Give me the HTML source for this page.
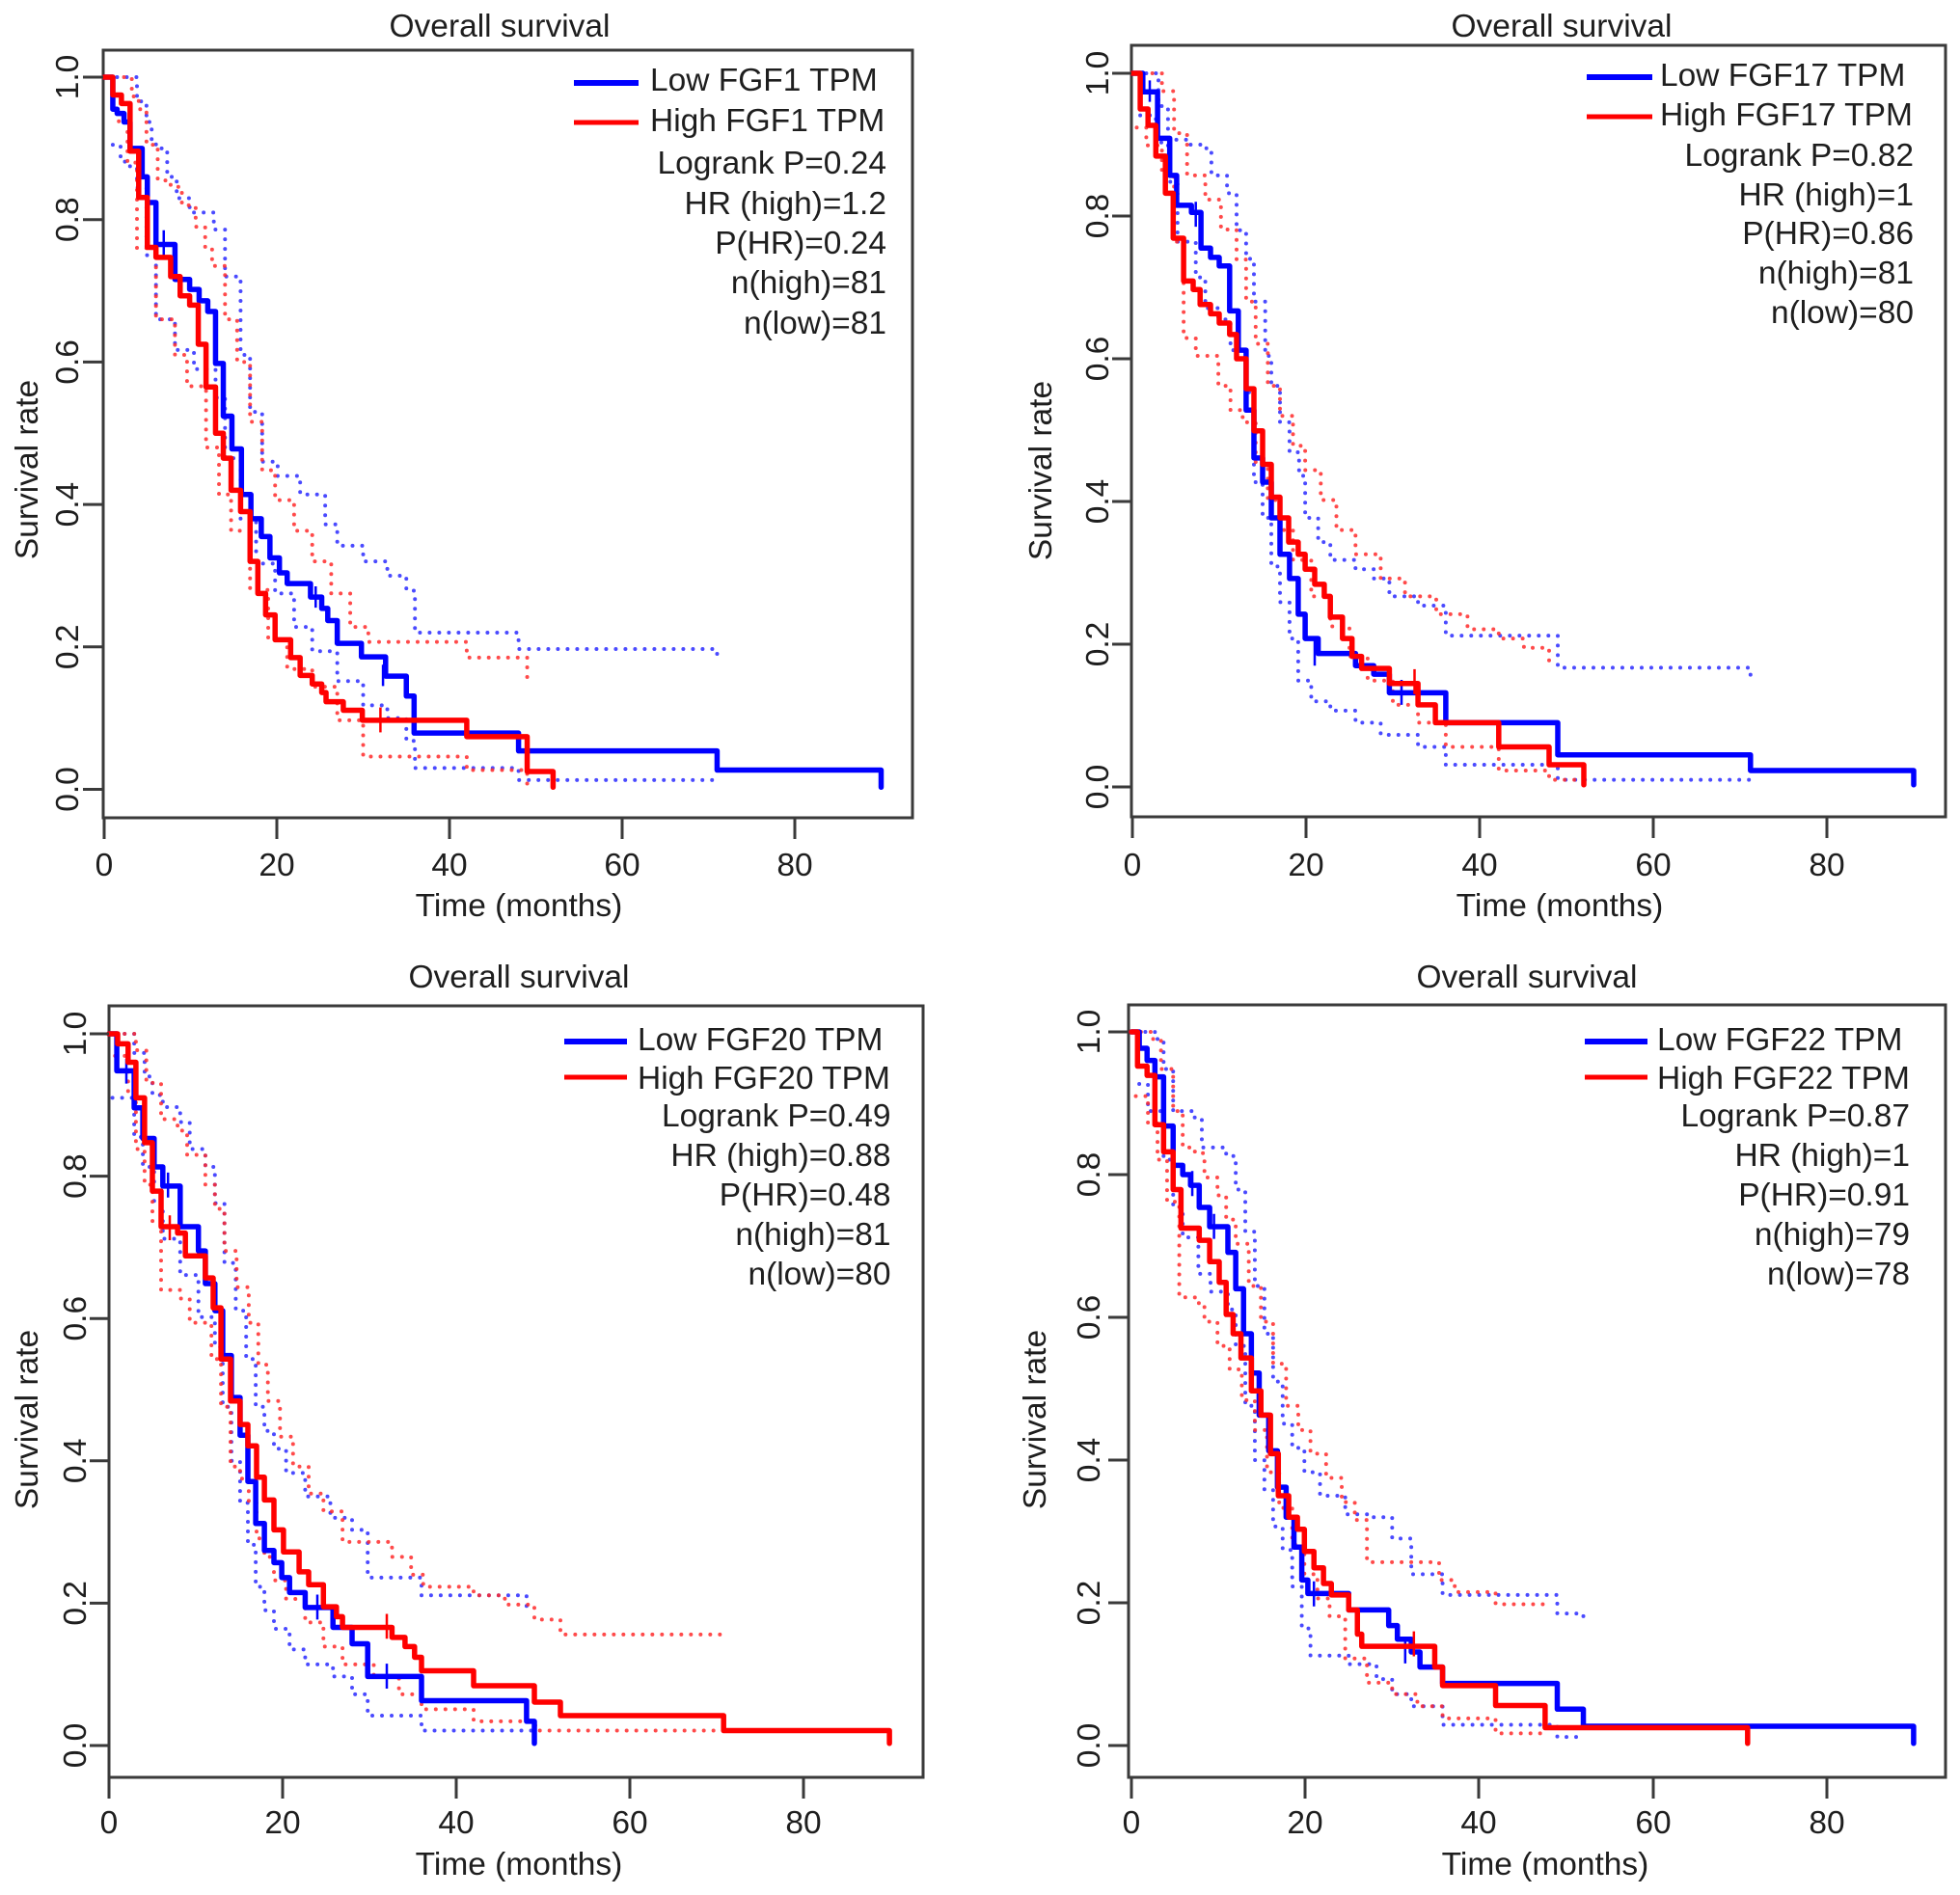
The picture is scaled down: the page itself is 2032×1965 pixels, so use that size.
<!DOCTYPE html>
<html><head><meta charset="utf-8"><style>
html,body{margin:0;padding:0;background:#fff}
svg{display:block}
text{font-family:"Liberation Sans",Arial,sans-serif;font-size:33.5px;fill:#1e1e1e}
.box{fill:none;stroke:#3a3a3a;stroke-width:3}
.tk{stroke:#3a3a3a;stroke-width:3}
.b{fill:none;stroke:#0000ff;stroke-width:5.5;stroke-linejoin:round;stroke-linecap:round;vector-effect:non-scaling-stroke}
.r{fill:none;stroke:#ff0000;stroke-width:5.5;stroke-linejoin:round;stroke-linecap:round;vector-effect:non-scaling-stroke}
.bd{fill:none;stroke:#2b2bff;stroke-width:4;stroke-dasharray:0 10;stroke-linecap:round;vector-effect:non-scaling-stroke;opacity:.85}
.rd{fill:none;stroke:#ff2b2b;stroke-width:4;stroke-dasharray:0 10;stroke-linecap:round;vector-effect:non-scaling-stroke;opacity:.85}
.cb{fill:none;stroke:#0000ff;stroke-width:2.5;vector-effect:non-scaling-stroke}
.cr{fill:none;stroke:#ff0000;stroke-width:2.5;vector-effect:non-scaling-stroke}
.e{text-anchor:end}.m{text-anchor:middle}
</style></head><body>
<svg width="2032" height="1965" viewBox="0 0 2032 1965" xmlns="http://www.w3.org/2000/svg">
<rect width="2032" height="1965" fill="#fff"/>

<!-- ================= PANEL 1 ================= -->
<rect class="box" x="107" y="52" width="839" height="796"/>
<g transform="matrix(8.95 0 0 -738.5 108 818.5)">
<path class="bd" d="M1.5 1H3.8V0.966H4.9V0.937H5.5V0.91H6V0.9H7.3V0.86H8.4V0.83H9.9V0.81H12.7V0.786H14V0.72H15.8V0.61H16.9V0.53H18.3V0.46H20.1V0.44H22.7V0.414H25.6V0.372H27V0.342H30V0.32H32.8V0.3H35V0.279H36V0.22H48V0.197H71V0.185"/>
<path class="bd" d="M1 0.905H1.9V0.887H2.4V0.875H3.8V0.845H4.9V0.75H6V0.716V0.66H8.2V0.617H10.4V0.59H12.9V0.55H14V0.465H15.8V0.38H17.6V0.317H19.8V0.275H22V0.228H24.1V0.194H27V0.152H30V0.118H32.8V0.1H35V0.068H36V0.03H48V0.013H71"/>
<path class="rd" d="M2.3 1H3.2V0.973H4V0.955H4.9V0.905H6.2V0.855H7.7V0.846H9V0.82H10.6V0.79H11.7V0.76H12.5V0.735H14V0.66H15.4V0.6H16.9V0.516H18.3V0.448H19.8V0.406H22V0.363H24.1V0.32H26.3V0.275H28.5V0.228H30.6V0.207H42V0.185H49V0.15"/>
<path class="rd" d="M1.7 0.938H2.7V0.88H3.8V0.76H6V0.66H8.2V0.61H9.6V0.566H11.8V0.48H13.3V0.414H14.7V0.363H16.9V0.28H19V0.21H21.2V0.169H24.1V0.144H27V0.097H30V0.046H42V0.027H49V0.008"/>
<path class="b" d="M0 1H1V0.955H1.5V0.949H2.3V0.937H3V0.9H4.4V0.86H5V0.824H6V0.765H8.2V0.752V0.716H9.9V0.702H11V0.686H12V0.671H12.9V0.598H13.8V0.524H14.8V0.478H15.9V0.414H17V0.38H18.2V0.355H19.2V0.325H20.3V0.304H21.2V0.289H23.9V0.27H25.2V0.254H25.9V0.237H27V0.205H29.8V0.186H32.6V0.159H35V0.131H35.9V0.079H48V0.054H71V0.027H90V0.003"/>
<path class="cb" d="M6.9 0.745V0.785M24.5 0.255V0.285M32.3 0.145V0.175"/>
<path class="r" d="M0 1H1V0.975H2V0.963H3V0.896H4V0.831H5V0.761H6V0.747H7.7V0.72H8.8V0.693H9.9V0.68H10.9V0.625H11.8V0.565H12.9V0.5H13.8V0.465H14.7V0.42H15.8V0.39H16.9V0.32H17.8V0.275H18.7V0.245H19.8V0.21H21.6V0.185H22.7V0.16H24.1V0.148H25.2V0.136H25.7V0.123H27.7V0.111H29.9V0.097H42V0.074H49V0.025H52V0.003"/>
<path class="cr" d="M32 0.08V0.115"/>
</g>
<g class="tk">
<line x1="86" y1="818.5" x2="107" y2="818.5"/><line x1="86" y1="670.8" x2="107" y2="670.8"/><line x1="86" y1="523.1" x2="107" y2="523.1"/><line x1="86" y1="375.4" x2="107" y2="375.4"/><line x1="86" y1="227.7" x2="107" y2="227.7"/><line x1="86" y1="80" x2="107" y2="80"/>
<line x1="108" y1="848" x2="108" y2="870"/><line x1="287" y1="848" x2="287" y2="870"/><line x1="466" y1="848" x2="466" y2="870"/><line x1="645" y1="848" x2="645" y2="870"/><line x1="824" y1="848" x2="824" y2="870"/>
</g>
<text class="m" transform="translate(81,818.5) rotate(-90)">0.0</text>
<text class="m" transform="translate(81,670.8) rotate(-90)">0.2</text>
<text class="m" transform="translate(81,523.1) rotate(-90)">0.4</text>
<text class="m" transform="translate(81,375.4) rotate(-90)">0.6</text>
<text class="m" transform="translate(81,227.7) rotate(-90)">0.8</text>
<text class="m" transform="translate(81,80) rotate(-90)">1.0</text>
<text class="m" x="108" y="908">0</text><text class="m" x="287" y="908">20</text><text class="m" x="466" y="908">40</text><text class="m" x="645" y="908">60</text><text class="m" x="824" y="908">80</text>
<text class="m" x="518" y="38">Overall survival</text>
<text class="m" x="538" y="950">Time (months)</text>
<text class="m" transform="translate(39,487) rotate(-90)">Survival rate</text>
<line x1="595" y1="86" x2="662" y2="86" stroke="#0000ff" stroke-width="6"/>
<line x1="595" y1="127" x2="662" y2="127" stroke="#ff0000" stroke-width="5"/>
<text x="674" y="94">Low FGF1 TPM</text>
<text x="674" y="136">High FGF1 TPM</text>
<text class="e" x="919" y="180">Logrank P=0.24</text>
<text class="e" x="919" y="222">HR (high)=1.2</text>
<text class="e" x="919" y="263">P(HR)=0.24</text>
<text class="e" x="919" y="304">n(high)=81</text>
<text class="e" x="919" y="346">n(low)=81</text>

<!-- ================= PANEL 2 ================= -->
<rect class="box" x="1173" y="47" width="844" height="800"/>
<g transform="matrix(9.0 0 0 -740 1174 816)">
<path class="bd" d="M1.6 1H3V0.954H4.1V0.907H6.3V0.9H8V0.895H9.1V0.857H10.9V0.832H12V0.78H13.1V0.74H14V0.68H15.3V0.604H16V0.562H17V0.511H18.1V0.469H19.2V0.436H19.9V0.377H21.4V0.343H22.8V0.318H25.7V0.305H27.8V0.292H29.6V0.267H32.9V0.254H36.1V0.212H49V0.167H71.2V0.15"/>
<path class="bd" d="M0.9 0.941H2.7V0.903H4.1V0.848H5.2V0.764H7.3V0.714H8.4V0.671H9.9V0.655H11.3V0.612H13.1V0.553H14V0.427H15V0.377H16V0.309H17V0.259H18.1V0.208H19.1V0.149H20.6V0.12H22.8V0.107H25.7V0.09H28.6V0.073H32.9V0.056H36.1V0.031H49V0.01H71.2"/>
<path class="rd" d="M2.3 1H3.4V0.975H4.8V0.916H6.3V0.857H8.4V0.823H10.2V0.781H12V0.739H13.1V0.68H14.2V0.621H15.6V0.562H17V0.52H18.5V0.478H19.9V0.444H21.7V0.402H23.5V0.36H25.7V0.326H28.6V0.292H31.4V0.267H35V0.242H38.6V0.221H42.2V0.208H45.1V0.195H48V0.183V0.165"/>
<path class="rd" d="M0.5 0.924H1.6V0.899H3.4V0.857H4.8V0.764H5.9V0.629H7.3V0.604H9.9V0.562H11.3V0.528H12.7V0.511H14.2V0.452H15.6V0.402H17V0.36H18.5V0.318H20.6V0.267H22.8V0.225H25V0.183H27.1V0.149H30V0.115H32.9V0.09H36.1V0.056H42.2V0.023H48V0.01H52"/>
<path class="b" d="M0 1H1.2V0.974H2.9V0.909H4.3V0.857H5.1V0.815H6.8V0.805H7.9V0.755H9V0.742H10V0.73H11.2V0.667H12.2V0.612H13.1V0.528H14V0.461H15V0.427H16V0.377H17V0.326H18.1V0.292H19.1V0.242H19.9V0.208H21.4V0.187H25.7V0.17H27.8V0.158H29.6V0.132H36.1V0.09H49V0.045H71.2V0.023H90V0.003"/>
<path class="cb" d="M2 0.96V0.99M7.3 0.785V0.82M21 0.17V0.205M31 0.115V0.15"/>
<path class="r" d="M0 1H0.9V0.95H1.8V0.927H2.7V0.884H3.8V0.832H4.7V0.769H5.9V0.709H7V0.697H7.8V0.676H9V0.663H10V0.65H11.2V0.634H12V0.6H13.1V0.558H14V0.499H15V0.452H16V0.406H17V0.377H18V0.343H19.1V0.326H19.9V0.305H21V0.284H22.1V0.267H22.8V0.238H24.2V0.208H25.3V0.183H26.4V0.166H29.6V0.145H32.9V0.115H34.9V0.09H42.2V0.056H48V0.031H52V0.003"/>
<path class="cr" d="M32.5 0.13V0.165"/>
</g>
<g class="tk">
<line x1="1153" y1="816" x2="1173" y2="816"/><line x1="1153" y1="668" x2="1173" y2="668"/><line x1="1153" y1="520" x2="1173" y2="520"/><line x1="1153" y1="372" x2="1173" y2="372"/><line x1="1153" y1="224" x2="1173" y2="224"/><line x1="1153" y1="76" x2="1173" y2="76"/>
<line x1="1174" y1="847" x2="1174" y2="869"/><line x1="1354" y1="847" x2="1354" y2="869"/><line x1="1534" y1="847" x2="1534" y2="869"/><line x1="1714" y1="847" x2="1714" y2="869"/><line x1="1894" y1="847" x2="1894" y2="869"/>
</g>
<text class="m" transform="translate(1149,816) rotate(-90)">0.0</text>
<text class="m" transform="translate(1149,668) rotate(-90)">0.2</text>
<text class="m" transform="translate(1149,520) rotate(-90)">0.4</text>
<text class="m" transform="translate(1149,372) rotate(-90)">0.6</text>
<text class="m" transform="translate(1149,224) rotate(-90)">0.8</text>
<text class="m" transform="translate(1149,76) rotate(-90)">1.0</text>
<text class="m" x="1174" y="908">0</text><text class="m" x="1354" y="908">20</text><text class="m" x="1534" y="908">40</text><text class="m" x="1714" y="908">60</text><text class="m" x="1894" y="908">80</text>
<text class="m" x="1619" y="38">Overall survival</text>
<text class="m" x="1617" y="950">Time (months)</text>
<text class="m" transform="translate(1090,488) rotate(-90)">Survival rate</text>
<line x1="1645" y1="80" x2="1713" y2="80" stroke="#0000ff" stroke-width="6"/>
<line x1="1645" y1="121" x2="1713" y2="121" stroke="#ff0000" stroke-width="5"/>
<text x="1721" y="89">Low FGF17 TPM</text>
<text x="1721" y="130">High FGF17 TPM</text>
<text class="e" x="1984" y="172">Logrank P=0.82</text>
<text class="e" x="1984" y="213">HR (high)=1</text>
<text class="e" x="1984" y="253">P(HR)=0.86</text>
<text class="e" x="1984" y="294">n(high)=81</text>
<text class="e" x="1984" y="335">n(low)=80</text>

<!-- ================= PANEL 3 ================= -->
<rect class="box" x="113" y="1043" width="844" height="800"/>
<g transform="matrix(9.0 0 0 -738 113 1810)">
<path class="bd" d="M1.8 1H2.9V0.973H4.1V0.94H5V0.914H6.2V0.897H8.2V0.876H9.3V0.838H11.1V0.813H12.2V0.762H13.3V0.678H14.6V0.611H15.8V0.543H16.9V0.476H17.9V0.442H19V0.417H20.4V0.383H22.6V0.35H25.5V0.32H28V0.303H29.8V0.236H36V0.211H48.1V0.19"/>
<path class="bd" d="M0.4 0.91H2.9V0.855H3.9V0.813H5.2V0.762H6.2V0.712H8.2V0.661H10.3V0.602H12.2V0.56H13.1V0.476H14.1V0.4H15.1V0.341H16V0.282H16.9V0.223H17.9V0.19H19V0.164H20.8V0.135H22.6V0.114H25.8V0.097H28V0.072H29.8V0.042H36V0.021H49"/>
<path class="rd" d="M1.8 1H3.1V0.977H4.3V0.931H6V0.88H7.9V0.864H9V0.83H11.1V0.788H12.2V0.754H13.3V0.695H14.7V0.644H16.1V0.594H17.2V0.535H18.3V0.484H19.7V0.434H21.2V0.392H23V0.354H24.7V0.329H26.9V0.286H32.6V0.265H34.8V0.24H36.2V0.223H42V0.211H45.6V0.198H49V0.177H52V0.156H70.8"/>
<path class="rd" d="M0.7 0.969H2.2V0.914H3.1V0.838H4.1V0.788H5V0.737H6V0.64H8.2V0.628H9.3V0.594H11.8V0.543H12.9V0.476H14V0.392H15.1V0.375H16.1V0.341H17V0.291H17.9V0.265H19V0.232H20.4V0.206H22.6V0.173H24.7V0.139H26.9V0.114H30.5V0.097H33.4V0.072H36V0.051H42V0.034H49.1V0.021H70.8"/>
<path class="b" d="M0 1H0.9V0.948H2.9V0.896H3.9V0.853H5.2V0.813H6.2V0.786H8.2V0.729H10.3V0.695H11.1V0.649H12.2V0.611H13.1V0.548H14.1V0.489H15.1V0.436H16V0.371H16.9V0.312H17.9V0.274H19V0.257H19.9V0.236H20.8V0.215H22.6V0.194H25.8V0.166H28V0.143H29.8V0.097H36V0.063H48.1V0.034H49V0.003"/>
<path class="cb" d="M2 0.93V0.965M6.8 0.77V0.805M24 0.177V0.212M32 0.08V0.115"/>
<path class="r" d="M0 1H1V0.986H2.2V0.96H3.1V0.91H4.1V0.847H5V0.779H6V0.729H7.9V0.72H8.8V0.688H11.1V0.657H12V0.615H12.9V0.543H14V0.484H15.1V0.451H16V0.421H17V0.377H17.9V0.345H19V0.303H20.1V0.272H21.9V0.244H23V0.226H24.7V0.195H26.2V0.181H26.9V0.166H32.6V0.152H34.1V0.139H35.2V0.124H36V0.105H42V0.084H49V0.061H52V0.042H70.8V0.021H89.9V0.003"/>
<path class="cr" d="M7 0.71V0.745M32 0.15V0.185"/>
</g>
<g class="tk">
<line x1="93" y1="1810" x2="113" y2="1810"/><line x1="93" y1="1662.4" x2="113" y2="1662.4"/><line x1="93" y1="1514.8" x2="113" y2="1514.8"/><line x1="93" y1="1367.2" x2="113" y2="1367.2"/><line x1="93" y1="1219.6" x2="113" y2="1219.6"/><line x1="93" y1="1072" x2="113" y2="1072"/>
<line x1="113" y1="1843" x2="113" y2="1865"/><line x1="293" y1="1843" x2="293" y2="1865"/><line x1="473" y1="1843" x2="473" y2="1865"/><line x1="653" y1="1843" x2="653" y2="1865"/><line x1="833" y1="1843" x2="833" y2="1865"/>
</g>
<text class="m" transform="translate(89,1810) rotate(-90)">0.0</text>
<text class="m" transform="translate(89,1662.4) rotate(-90)">0.2</text>
<text class="m" transform="translate(89,1514.8) rotate(-90)">0.4</text>
<text class="m" transform="translate(89,1367.2) rotate(-90)">0.6</text>
<text class="m" transform="translate(89,1219.6) rotate(-90)">0.8</text>
<text class="m" transform="translate(89,1072) rotate(-90)">1.0</text>
<text class="m" x="113" y="1901">0</text><text class="m" x="293" y="1901">20</text><text class="m" x="473" y="1901">40</text><text class="m" x="653" y="1901">60</text><text class="m" x="833" y="1901">80</text>
<text class="m" x="538" y="1024">Overall survival</text>
<text class="m" x="538" y="1944">Time (months)</text>
<text class="m" transform="translate(39,1472) rotate(-90)">Survival rate</text>
<line x1="585" y1="1080" x2="650" y2="1080" stroke="#0000ff" stroke-width="6"/>
<line x1="585" y1="1117" x2="650" y2="1117" stroke="#ff0000" stroke-width="5"/>
<text x="661" y="1089">Low FGF20 TPM</text>
<text x="661" y="1129">High FGF20 TPM</text>
<text class="e" x="923.5" y="1168">Logrank P=0.49</text>
<text class="e" x="923.5" y="1209">HR (high)=0.88</text>
<text class="e" x="923.5" y="1250">P(HR)=0.48</text>
<text class="e" x="923.5" y="1291">n(high)=81</text>
<text class="e" x="923.5" y="1332">n(low)=80</text>

<!-- ================= PANEL 4 ================= -->
<rect class="box" x="1170" y="1042" width="847" height="801"/>
<g transform="matrix(9.01 0 0 -740 1173 1810)">
<path class="bd" d="M1.6 1H2.7V0.99H3.7V0.948H4.8V0.889H7V0.88H8.1V0.838H10.9V0.826H12V0.779H13.1V0.72H14.2V0.644H15.3V0.577H16.3V0.51H17.4V0.451H18.5V0.417H19.9V0.383H21.7V0.35H24.6V0.324H27.8V0.32H30V0.29H32.2V0.24H35.8V0.211H49V0.185H52V0.17"/>
<path class="bd" d="M0.9 0.927H1.9V0.889H3.7V0.821H4.8V0.754H5.9V0.712H7.7V0.661H9.1V0.636H11.1V0.611H12V0.56H13.1V0.476H14.2V0.4H15.3V0.358H16.3V0.307H17.4V0.274H18.5V0.223H19.6V0.164H20.6V0.126H25V0.114H28.2V0.093H30V0.072H32.2V0.055H35.8V0.029H49V0.012H52"/>
<path class="rd" d="M1.1 1H2.3V0.99H3.4V0.948H4.8V0.889H5.9V0.838H7.3V0.83H8.4V0.796H9.9V0.771H10.9V0.737H12V0.703H13.5V0.644H14.9V0.594H16.3V0.535H17.8V0.476H19.2V0.442H20.6V0.409H22.4V0.375H24.2V0.341H25.7V0.316H27.1V0.257H35.4V0.232H37.2V0.215H41.9V0.198H47.6V0.19"/>
<path class="rd" d="M0.5 0.91H1.9V0.872H3V0.821H4.1V0.762H5.5V0.628H7.3V0.62H8.4V0.594H9.9V0.56H11.3V0.527H12.7V0.484H14.2V0.442H15.6V0.383H17V0.333H18.5V0.282H19.9V0.24H21.4V0.206H22.8V0.181H24.6V0.122H27.1V0.088H30V0.072H32.9V0.055H35.8V0.038H41.9V0.017H47.6"/>
<path class="b" d="M0 1H0.9V0.977H1.8V0.96H2.7V0.937H3.7V0.868H4.8V0.813H5.9V0.8H6.8V0.785H7.8V0.754H9V0.727H11.1V0.691H12V0.64H12.9V0.577H13.8V0.522H14.7V0.463H15.8V0.413H16.8V0.362H17.8V0.32H18.7V0.278H19.6V0.232H20.3V0.213H25V0.19H29.6V0.168H30.6V0.149H32.2V0.131H33.2V0.11H35.8V0.087H49V0.051H52V0.027H90V0.003"/>
<path class="cb" d="M7 0.77V0.805M9.5 0.71V0.745M21 0.195V0.23M31.5 0.115V0.15"/>
<path class="r" d="M0 1H0.7V0.952H1.8V0.939H2.7V0.87H3.7V0.832H4.8V0.779H5.7V0.725H7.8V0.708H9V0.678H10.1V0.649H10.9V0.604H11.7V0.577H12.6V0.543H13.8V0.497H14.9V0.463H16V0.409H16.9V0.35H18.1V0.32H19.1V0.303H19.9V0.272H21V0.249H22.1V0.227H23V0.211H25V0.19H26V0.156H26.5V0.139H34.9V0.11H35.8V0.084H41.9V0.056H47.6V0.025H70.9V0.003"/>
<path class="cr" d="M32.5 0.125V0.16"/>
</g>
<g class="tk">
<line x1="1149" y1="1810" x2="1170" y2="1810"/><line x1="1149" y1="1662" x2="1170" y2="1662"/><line x1="1149" y1="1514" x2="1170" y2="1514"/><line x1="1149" y1="1366" x2="1170" y2="1366"/><line x1="1149" y1="1218" x2="1170" y2="1218"/><line x1="1149" y1="1070" x2="1170" y2="1070"/>
<line x1="1173" y1="1843" x2="1173" y2="1865"/><line x1="1353" y1="1843" x2="1353" y2="1865"/><line x1="1533" y1="1843" x2="1533" y2="1865"/><line x1="1714" y1="1843" x2="1714" y2="1865"/><line x1="1894" y1="1843" x2="1894" y2="1865"/>
</g>
<text class="m" transform="translate(1140,1810) rotate(-90)">0.0</text>
<text class="m" transform="translate(1140,1662) rotate(-90)">0.2</text>
<text class="m" transform="translate(1140,1514) rotate(-90)">0.4</text>
<text class="m" transform="translate(1140,1366) rotate(-90)">0.6</text>
<text class="m" transform="translate(1140,1218) rotate(-90)">0.8</text>
<text class="m" transform="translate(1140,1070) rotate(-90)">1.0</text>
<text class="m" x="1173" y="1901">0</text><text class="m" x="1353" y="1901">20</text><text class="m" x="1533" y="1901">40</text><text class="m" x="1714" y="1901">60</text><text class="m" x="1894" y="1901">80</text>
<text class="m" x="1583" y="1024">Overall survival</text>
<text class="m" x="1602" y="1944">Time (months)</text>
<text class="m" transform="translate(1084,1472) rotate(-90)">Survival rate</text>
<line x1="1643" y1="1080" x2="1708" y2="1080" stroke="#0000ff" stroke-width="6"/>
<line x1="1643" y1="1117" x2="1708" y2="1117" stroke="#ff0000" stroke-width="5"/>
<text x="1718" y="1089">Low FGF22 TPM</text>
<text x="1718" y="1129">High FGF22 TPM</text>
<text class="e" x="1980" y="1168">Logrank P=0.87</text>
<text class="e" x="1980" y="1209">HR (high)=1</text>
<text class="e" x="1980" y="1250">P(HR)=0.91</text>
<text class="e" x="1980" y="1291">n(high)=79</text>
<text class="e" x="1980" y="1332">n(low)=78</text>
</svg>
</body></html>
